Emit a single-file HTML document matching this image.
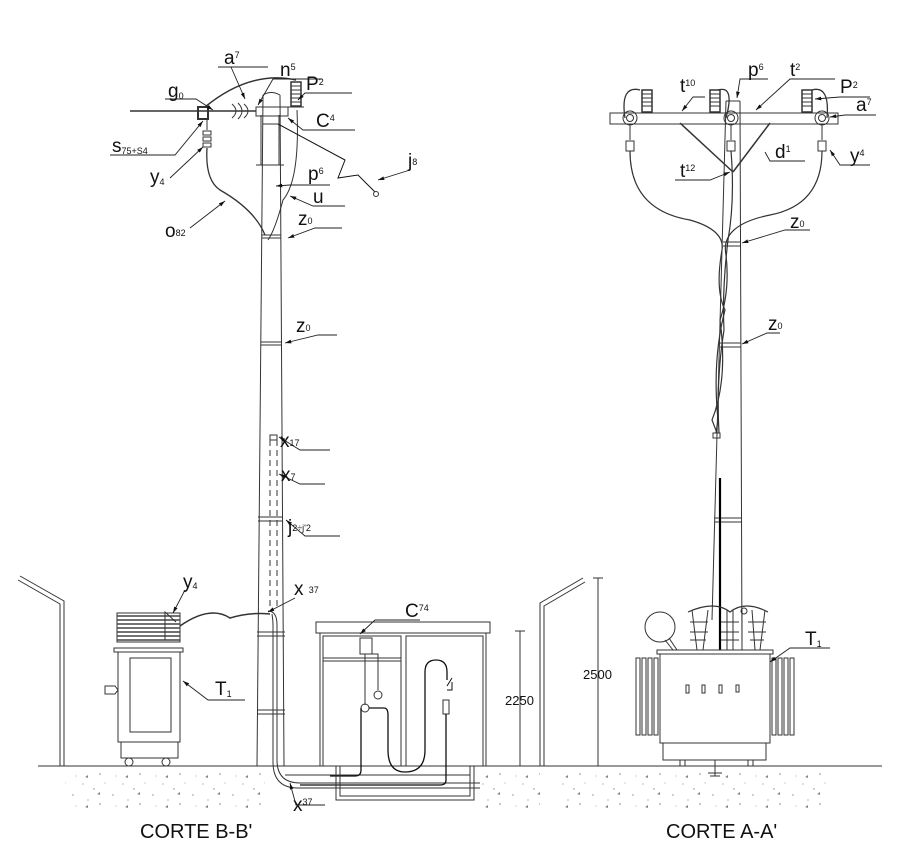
<!DOCTYPE html>
<html><head><meta charset="utf-8"><style>
html,body{margin:0;padding:0;background:#fff}
svg{display:block}
text{font-family:"Liberation Sans",sans-serif;fill:#111}
.l{font-size:19px}
.s{font-size:9px}
</style></head><body>
<svg width="900" height="847" viewBox="0 0 900 847" xmlns="http://www.w3.org/2000/svg">
<defs>
<marker id="a" viewBox="0 0 10 10" refX="10" refY="5" markerWidth="7" markerHeight="7" orient="auto"><path d="M0,2 L10,5 L0,8 z" fill="#111"/></marker>
<pattern id="sp" width="40" height="30" patternUnits="userSpaceOnUse">
<g fill="#888"><circle cx="3" cy="4" r=".6"/><circle cx="14" cy="9" r=".7"/><circle cx="25" cy="3" r=".5"/><circle cx="33" cy="15" r=".7"/><circle cx="8" cy="20" r=".6"/><circle cx="20" cy="24" r=".8"/><circle cx="36" cy="26" r=".5"/><path d="M17 14 l3 -2 l0 3z"/><path d="M5 27 l3 -2 l0 3z"/></g>
</pattern>
</defs>
<rect x="65" y="772" width="200" height="36" fill="url(#sp)"/>
<rect x="480" y="772" width="60" height="36" fill="url(#sp)"/>
<rect x="560" y="772" width="270" height="36" fill="url(#sp)"/>
<g fill="none" stroke="#333" stroke-width="1">
<line x1="38" y1="766" x2="882" y2="766"/>
<!-- LEFT lamppost -->
<path d="M18 580 L60 604 L60 766 M20 576 L64 601 L64 766"/>
<!-- RIGHT lamppost -->
<path d="M583 578 L540 603 L540 766 M585 582 L544 606 L544 766"/>

<!-- LEFT POLE -->
<path d="M263 95 L257 766 M280 95 L284 766"/>
<path d="M263 95 Q271 90 280 95"/>
<line x1="262" y1="235" x2="281" y2="235"/><line x1="262" y1="238" x2="281" y2="238"/>
<line x1="261" y1="342" x2="282" y2="342"/><line x1="261" y1="345" x2="282" y2="345"/>
<line x1="258" y1="517" x2="283" y2="517"/><line x1="258" y1="521" x2="283" y2="521"/>
<line x1="257" y1="632" x2="285" y2="632"/><line x1="257" y1="636" x2="285" y2="636"/>
<line x1="257" y1="710" x2="285" y2="710"/><line x1="257" y1="714" x2="285" y2="714"/>
<rect x="270" y="435" width="7" height="5"/>
<path d="M270 440 L270 610 M277 440 L277 610" stroke-dasharray="6,4"/>
<!-- bracket -->
<path d="M261 115 L261 165 M279 115 L279 165 M263 124 L278 124 M256 165 L284 165"/>
<rect x="256" y="107" width="32" height="9"/>
<!-- line & insulators -->
<line x1="130" y1="111" x2="256" y2="111" stroke-width="1.5"/>
<path d="M232 104 Q240 111 232 118 M238 103 Q246 111 238 119 M244 104 Q252 111 244 118"/>
<rect x="198" y="107" width="10" height="12" stroke-width="2"/>
<path d="M205 107 Q250 70 296 80" stroke-width="1.5"/>
<!-- P2 bushing -->
<rect x="291" y="82" width="10" height="24" stroke-width="1.5"/>
<path d="M291 86 h10 M291 90 h10 M291 94 h10 M291 98 h10 M291 102 h10"/>
<line x1="288" y1="107" x2="304" y2="107"/>
<path d="M297 110 Q300 180 283 200 Q275 230 268 240"/>
<!-- y4 insulator & drop -->
<path d="M207 119 L207 130 M203 131 h8 v4 h-8z M203 137 h8 v4 h-8z M203 143 h8 v4 h-8z"/>
<path d="M207 148 Q205 180 220 190 Q255 210 265 235" stroke-width="1.3"/>
<!-- j8 -->
<path d="M278 124 L345 160 L338 178 L358 175 L375 192" stroke="#111"/>
<circle cx="376" cy="194" r="2.5"/>
<!-- cable down to transformer -->
<path d="M180 626 Q210 605 230 618 Q250 612 270 614" stroke-width="1.5"/>
<path d="M268 611 Q277 611 277 625 L277 760 Q277 783 300 783 L480 783" />
<path d="M272 614 Q273 620 273 625 L273 762 Q273 788 298 788 L480 788"/>
<path d="M285 775 L470 775" />

<!-- LEFT TRANSFORMER -->
<rect x="117" y="613" width="63" height="29"/>
<g stroke="#444" stroke-width="1.5"><line x1="117" y1="616" x2="180" y2="616"/><line x1="117" y1="620" x2="180" y2="620"/><line x1="117" y1="624" x2="180" y2="624"/><line x1="117" y1="628" x2="180" y2="628"/><line x1="117" y1="632" x2="180" y2="632"/><line x1="117" y1="636" x2="180" y2="636"/><line x1="117" y1="640" x2="180" y2="640"/></g>
<rect x="114" y="648" width="69" height="4"/>
<rect x="118" y="652" width="62" height="90"/>
<rect x="130" y="658" width="41" height="74"/>
<rect x="121" y="742" width="57" height="16"/>
<circle cx="129" cy="762" r="4"/><circle cx="166" cy="762" r="4"/>
<path d="M105 686 h10 l3 4 l-3 4 h-10z"/>
<path d="M165 640 L165 612 L176 622"/>

<!-- CABINET -->
<rect x="316" y="622" width="174" height="11"/>
<rect x="320" y="633" width="166" height="133"/>
<rect x="323" y="636" width="78" height="130"/>
<rect x="406" y="636" width="77" height="130"/>
<line x1="323" y1="658" x2="401" y2="658"/><line x1="323" y1="661" x2="401" y2="661"/>
<rect x="360" y="638" width="12" height="16"/>
<path d="M365 654 L365 705 M368 654 h10 v36"/>
<circle cx="378" cy="695" r="4"/><circle cx="365" cy="708" r="4"/>
<path d="M369 708 h15 Q388 708 388 715 L388 750 Q388 772 405 772 Q425 772 425 750 L425 672 Q425 660 436 660 Q447 660 447 672 L447 680" stroke="#111" stroke-width="1.3"/>
<path d="M361 708 L361 770 Q361 776 355 776 L330 776" stroke="#111" stroke-width="1.3"/>
<path d="M447 686 L452 678 M447 690 h5 v-8" stroke="#111"/>
<rect x="443" y="700" width="6" height="14"/>
<path d="M446 714 L446 780 Q446 785 440 785 L300 785" stroke="#111" stroke-width="1.3"/>
<path d="M336 766 L336 800 L474 800 L474 766 M340 766 L340 796 L470 796 L470 766"/>

<!-- DIMS -->
<path d="M520 631 L520 766 M515 631 h10 M515 766 h10"/>
<path d="M598 578 L598 766 M593 578 h10 M593 766 h10"/>

<!-- RIGHT POLE -->
<path d="M726 101 L712 620 M740 101 L742 650"/>
<line x1="726" y1="101" x2="740" y2="101"/>
<line x1="723" y1="242" x2="740" y2="242"/><line x1="723" y1="246" x2="740" y2="246"/>
<line x1="720" y1="343" x2="741" y2="343"/><line x1="720" y1="347" x2="741" y2="347"/>
<line x1="714" y1="518" x2="742" y2="518"/><line x1="714" y1="522" x2="742" y2="522"/>
<rect x="713" y="433" width="7" height="5"/>
<line x1="720" y1="478" x2="720" y2="650" stroke="#000" stroke-width="2.2"/>
<!-- crossarm -->
<rect x="610" y="113" width="228" height="11"/>
<circle cx="630" cy="118" r="7"/><circle cx="630" cy="118" r="3.5"/>
<circle cx="731" cy="118" r="7"/><circle cx="731" cy="118" r="3.5"/>
<circle cx="822" cy="118" r="7"/><circle cx="822" cy="118" r="3.5"/>
<rect x="642" y="90" width="10" height="22" stroke-width="1.5"/>
<rect x="710" y="90" width="10" height="22" stroke-width="1.5"/>
<rect x="802" y="90" width="10" height="22" stroke-width="1.5"/>
<path d="M642 94 h10 M642 98 h10 M642 102 h10 M642 106 h10 M710 94 h10 M710 98 h10 M710 102 h10 M710 106 h10 M802 94 h10 M802 98 h10 M802 102 h10 M802 106 h10"/>
<path d="M625 118 Q620 85 640 90 M726 118 Q735 85 718 90 M827 118 Q830 85 812 90" stroke-width="1.3"/>
<!-- braces -->
<path d="M680 123 L733 172 M770 123 L733 172" stroke-width="1.5"/>
<!-- y4 insulators -->
<path d="M630 125 L630 140 M626 141 h8 v10 h-8z M731 125 L731 140 M727 141 h8 v10 h-8z M822 125 L822 140 M818 141 h8 v10 h-8z"/>
<!-- cables -->
<path d="M630 151 Q630 210 690 220 Q725 230 722 250 Q715 290 725 310 Q712 360 718 420 L716 433" stroke-width="1.2"/>
<path d="M822 151 Q822 205 770 215 Q720 225 726 255 Q730 290 720 320 Q728 380 712 420 L717 433" stroke-width="1.2"/>
<path d="M731 151 Q735 200 728 240 Q722 290 724 330 Q716 380 719 433" stroke-width="1.2"/>
<!-- RIGHT TRANSFORMER -->
<circle cx="660" cy="627" r="15"/>
<path d="M665 640 L673 650 M669 638 L677 650"/>
<rect x="657" y="650" width="116" height="4"/>
<rect x="660" y="654" width="110" height="89"/>
<rect x="663" y="743" width="103" height="17"/>
<path d="M680 760 v6 M685 760 v6 M748 760 v6 M753 760 v6 M715 760 v16 M708 773 h14 M710 776 h10"/>
<g>
<rect x="636" y="658" width="4" height="77"/><rect x="642" y="658" width="4" height="77"/><rect x="648" y="658" width="4" height="77"/><rect x="654" y="658" width="4" height="77"/>
<rect x="772" y="658" width="4" height="77"/><rect x="778" y="658" width="4" height="77"/><rect x="784" y="658" width="4" height="77"/><rect x="790" y="658" width="4" height="77"/>
</g>
<rect x="686" y="685" width="3" height="8"/><rect x="702" y="685" width="3" height="8"/><rect x="719" y="685" width="3" height="8"/><rect x="736" y="685" width="3" height="7"/>
<path d="M697 650 L692 610 M703 650 L708 610 M727 650 L727 610 M733 650 L733 610 M755 650 L752 610 M760 650 L765 610"/>
<path d="M690 622 h18 M690 632 h18 M690 640 h16 M721 622 h18 M721 632 h18 M721 640 h18 M748 622 h18 M748 632 h18 M750 640 h14"/>
<path d="M688 612 Q715 600 730 612 Q745 600 768 612" stroke-width="1.2"/>
<circle cx="744" cy="611" r="3"/>
<line x1="742" y1="610" x2="742" y2="650"/>

<!-- LEADERS -->
<g stroke="#222" stroke-width="0.9">
<path d="M268 67 L218 67"/><path d="M231 67 L245 99" marker-end="url(#a)"/>
<path d="M322 79 L273 79 L258 105" marker-end="url(#a)"/>
<path d="M165 99 L196 99 L213 110" marker-end="url(#a)"/>
<path d="M352 93 L305 93 L298 100" marker-end="url(#a)"/>
<path d="M355 130 L303 130 L288 118" marker-end="url(#a)"/>
<path d="M110 155 L175 155 L203 121" marker-end="url(#a)"/>
<path d="M170 178 L203 147" marker-end="url(#a)"/>
<path d="M410 170 L378 180" marker-end="url(#a)"/>
<path d="M330 185 L290 185 L276 186" marker-end="url(#a)"/>
<path d="M345 206 L313 206 L290 196" marker-end="url(#a)"/>
<path d="M190 228 L225 201" marker-end="url(#a)"/>
<path d="M342 228 L315 228 L288 238" marker-end="url(#a)"/>
<path d="M337 335 L318 335 L285 343" marker-end="url(#a)"/>
<path d="M330 450 L300 450 L279 437" marker-end="url(#a)"/>
<path d="M325 484 L300 484 L279 474" marker-end="url(#a)"/>
<path d="M340 536 L305 536 L286 520" marker-end="url(#a)"/>
<path d="M185 590 L173 613" marker-end="url(#a)"/>
<path d="M295 598 L268 612" marker-end="url(#a)"/>
<path d="M420 620 L375 620 L360 634" marker-end="url(#a)"/>
<path d="M245 700 L208 700 L183 681" marker-end="url(#a)"/>
<path d="M325 805 L296 805 L290 783" marker-end="url(#a)"/>
<path d="M705 97 L693 97 L682 111" marker-end="url(#a)"/>
<path d="M768 79 L740 79 L737 98" marker-end="url(#a)"/>
<path d="M835 79 L790 79 L756 110" marker-end="url(#a)"/>
<path d="M870 97 L840 97 L815 99" marker-end="url(#a)"/>
<path d="M876 115 L845 115 L830 117" marker-end="url(#a)"/>
<path d="M805 161 L770 161 L765 152"/>
<path d="M870 165 L840 165 L830 150" marker-end="url(#a)"/>
<path d="M675 180 L710 180 L730 172" marker-end="url(#a)"/>
<path d="M810 230 L785 230 L742 243" marker-end="url(#a)"/>
<path d="M780 333 L767 333 L742 344" marker-end="url(#a)"/>
<path d="M830 648 L790 648 L770 662" marker-end="url(#a)"/>
</g>
</g>

<!-- LABELS -->
<text class="l" x="224" y="64">a<tspan class="s" dy="-6">7</tspan></text>
<text class="l" x="280" y="76">n<tspan class="s" dy="-6">5</tspan></text>
<text class="l" x="168" y="97">g<tspan class="s" dy="2">0</tspan></text>
<text class="l" x="306" y="90">P<tspan class="s" dy="-5">2</tspan></text>
<text class="l" x="316" y="127">C<tspan class="s" dy="-6">4</tspan></text>
<text class="l" x="112" y="152">s<tspan class="s" dy="2">75+S4</tspan></text>
<text class="l" x="150" y="183">y<tspan class="s" dy="2">4</tspan></text>
<text class="l" x="408" y="167">j<tspan class="s" dy="-2">8</tspan></text>
<text class="l" x="308" y="180">p<tspan class="s" dy="-6">6</tspan></text>
<text class="l" x="313" y="203">u</text>
<text class="l" x="165" y="237">o<tspan class="s" dy="-1">82</tspan></text>
<text class="l" x="298" y="225">z<tspan class="s" dy="-1">0</tspan></text>
<text class="l" x="296" y="332">z<tspan class="s" dy="-1">0</tspan></text>
<text class="l" x="280" y="447">x<tspan class="s" dy="-1">17</tspan></text>
<text class="l" x="281" y="481">x<tspan class="s" dy="-1">7</tspan></text>
<text class="l" x="288" y="533">j<tspan class="s" dy="-2">2÷j'2</tspan></text>
<text class="l" x="183" y="588">y<tspan class="s" dy="1">4</tspan></text>
<text class="l" x="294" y="595">x <tspan class="s" dy="-2">37</tspan></text>
<text class="l" x="405" y="617">C<tspan class="s" dy="-6">74</tspan></text>
<text class="l" x="215" y="695">T<tspan class="s" dy="2">1</tspan></text>
<text class="l" x="293" y="811">x<tspan class="s" dy="-6">37</tspan></text>
<text x="505" y="705" style="font-size:13px">2250</text>
<text x="583" y="679" style="font-size:13px">2500</text>
<text x="140" y="838" style="font-size:20px">CORTE B-B'</text>
<text x="666" y="838" style="font-size:20px">CORTE A-A'</text>
<text class="l" x="680" y="92">t<tspan class="s" dy="-6">10</tspan></text>
<text class="l" x="748" y="76">p<tspan class="s" dy="-6">6</tspan></text>
<text class="l" x="790" y="76">t<tspan class="s" dy="-6">2</tspan></text>
<text class="l" x="840" y="93">P<tspan class="s" dy="-5">2</tspan></text>
<text class="l" x="856" y="111">a<tspan class="s" dy="-6">7</tspan></text>
<text class="l" x="775" y="158">d<tspan class="s" dy="-6">1</tspan></text>
<text class="l" x="850" y="162">y<tspan class="s" dy="-6">4</tspan></text>
<text class="l" x="680" y="177">t<tspan class="s" dy="-6">12</tspan></text>
<text class="l" x="790" y="228">z<tspan class="s" dy="-1">0</tspan></text>
<text class="l" x="768" y="330">z<tspan class="s" dy="-1">0</tspan></text>
<text class="l" x="805" y="645">T<tspan class="s" dy="2">1</tspan></text>
</svg>
</body></html>
